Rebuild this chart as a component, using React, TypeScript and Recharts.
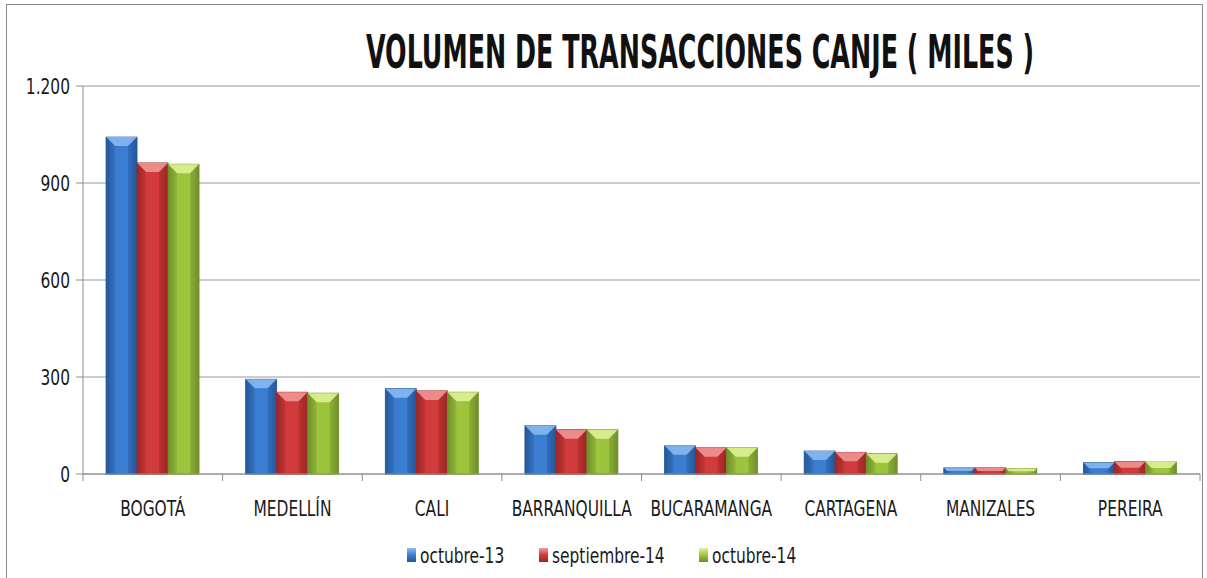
import React from "react";
import { BarChart, Bar, XAxis, YAxis, CartesianGrid, Legend } from "recharts";

const ciudades = ["BOGOTÁ", "MEDELLÍN", "CALI", "BARRANQUILLA", "BUCARAMANGA", "CARTAGENA", "MANIZALES", "PEREIRA"];
const octubre13 = [1042, 293, 264, 149, 87, 71, 19, 35];
const septiembre14 = [962, 253, 257, 137, 81, 67, 19, 38];
const octubre14 = [958, 250, 253, 137, 81, 63, 17, 37];
const yTicks = [0, 300, 600, 900, 1200];

const series = [
  { key: "oct13", name: "octubre-13", base: "#3b7dd0", dark: "#24579a", light: "#8cbcf2" },
  { key: "sep14", name: "septiembre-14", base: "#d23b3b", dark: "#9c2626", light: "#f29a9a" },
  { key: "oct14", name: "octubre-14", base: "#9cc43d", dark: "#6f8f2a", light: "#e2f59a" },
];

const data = ciudades.map((c, i) => ({
  ciudad: c,
  oct13: octubre13[i],
  sep14: septiembre14[i],
  oct14: octubre14[i],
}));

const FONT = "'DejaVu Sans Condensed', 'DejaVu Sans', sans-serif";
const W = 1207;
const H = 578;
const LEFT = 83;
const RIGHT = 7;
const STEP = (W - LEFT - RIGHT) / ciudades.length;
const NARROW = 0.78;

const BevelBar = (props: any) => {
  const { x, y, width, height, base, dark, light, id } = props;
  if (!height || height <= 0) return null;
  const b = Math.min(9, height / 2, width / 3);
  return (
    <g>
      <rect x={x} y={y} width={width} height={height} fill={`url(#g-${id})`} stroke={dark} strokeWidth={0.8} />
      <polygon points={`${x},${y} ${x + width},${y} ${x + width - b},${y + b} ${x + b},${y + b}`} fill={light} opacity={0.85} />
      <polygon points={`${x},${y} ${x + b},${y + b} ${x + b},${y + height} ${x},${y + height}`} fill={dark} opacity={0.25} />
      <polygon points={`${x + width},${y} ${x + width - b},${y + b} ${x + width - b},${y + height} ${x + width},${y + height}`} fill={dark} opacity={0.35} />
      <line x1={x} y1={y + height} x2={x + width} y2={y + height} stroke={base} />
    </g>
  );
};

const NarrowText = ({ x, y, anchor, size, children }: any) => (
  <text
    transform={`translate(${x},${y}) scale(${NARROW},1)`}
    textAnchor={anchor}
    fontSize={size}
    fill="#1a1a1a"
    fontFamily={FONT}
  >
    {children}
  </text>
);

const CityTick = (props: any) => {
  const { x, y, payload, index } = props;
  const last = index === ciudades.length - 1;
  return (
    <g>
      <line x1={x - STEP / 2} y1={y - 8} x2={x - STEP / 2} y2={y - 1} stroke="#8c8c8c" />
      {last && <line x1={x + STEP / 2} y1={y - 8} x2={x + STEP / 2} y2={y - 1} stroke="#8c8c8c" />}
      <NarrowText x={x} y={y + 34} anchor="middle" size={22}>
        {payload.value}
      </NarrowText>
    </g>
  );
};

const ValueTick = (props: any) => {
  const { x, y, payload } = props;
  return (
    <NarrowText x={x - 4} y={y + 8} anchor="end" size={22}>
      {Number(payload.value).toLocaleString("de-DE")}
    </NarrowText>
  );
};

const legendX = [407, 539, 699];

const LegendBox = () => (
  <svg width={W} height={30} style={{ display: "block" }}>
    <defs>
      {series.map((s) => (
        <linearGradient key={s.key} id={`lg-${s.key}`} x1="0" y1="0" x2="0" y2="1">
          <stop offset="0%" stopColor={s.light} />
          <stop offset="50%" stopColor={s.base} />
          <stop offset="100%" stopColor={s.dark} />
        </linearGradient>
      ))}
    </defs>
    {series.map((s, i) => (
      <g key={s.key}>
        <rect x={legendX[i]} y={8} width={9} height={14} fill={`url(#lg-${s.key})`} />
        <NarrowText x={legendX[i] + 13} y={23} anchor="start" size={22}>
          {s.name}
        </NarrowText>
      </g>
    ))}
  </svg>
);

export default function App() {
  return (
    <div style={{ position: "absolute", left: 0, top: 0, width: W, height: H, background: "#fff", overflow: "hidden" }}>
      <div style={{ position: "absolute", left: 6, top: 4, width: 1195, height: 580, border: "1px solid #8a8a8a" }} />
      <svg width={W} height={100} style={{ position: "absolute", left: 0, top: 0 }}>
        <text
          transform="translate(700,68) scale(0.6,1)"
          textAnchor="middle"
          fontFamily={FONT}
          fontWeight="bold"
          fontSize={47}
          fill="#111"
        >
          VOLUMEN DE TRANSACCIONES CANJE ( MILES )
        </text>
      </svg>
      <BarChart
        width={W}
        height={H}
        data={data}
        margin={{ top: 86, right: RIGHT, left: 0, bottom: 8 }}
        barCategoryGap="16.5%"
        barGap={0}
        style={{ position: "absolute", left: 0, top: 0 }}
      >
        <defs>
          {series.map((s) => (
            <linearGradient key={s.key} id={`g-${s.key}`} x1="0" y1="0" x2="1" y2="0">
              <stop offset="0%" stopColor={s.dark} />
              <stop offset="30%" stopColor={s.base} />
              <stop offset="70%" stopColor={s.base} />
              <stop offset="100%" stopColor={s.dark} />
            </linearGradient>
          ))}
        </defs>
        <CartesianGrid vertical={false} stroke="#9a9a9a" />
        <XAxis
          dataKey="ciudad"
          axisLine={{ stroke: "#8c8c8c" }}
          tickLine={false}
          tick={<CityTick />}
          height={66}
          interval={0}
        />
        <YAxis
          domain={[0, 1200]}
          ticks={yTicks}
          width={LEFT}
          axisLine={{ stroke: "#8c8c8c" }}
          tickLine={{ stroke: "#8c8c8c" }}
          tickSize={7}
          tick={<ValueTick />}
        />
        <Legend verticalAlign="bottom" height={30} content={<LegendBox />} />
        {series.map((s) => (
          <Bar
            key={s.key}
            dataKey={s.key}
            name={s.name}
            fill={s.base}
            isAnimationActive={false}
            shape={(p: any) => <BevelBar {...p} base={s.base} dark={s.dark} light={s.light} id={s.key} />}
          />
        ))}
      </BarChart>
    </div>
  );
}
